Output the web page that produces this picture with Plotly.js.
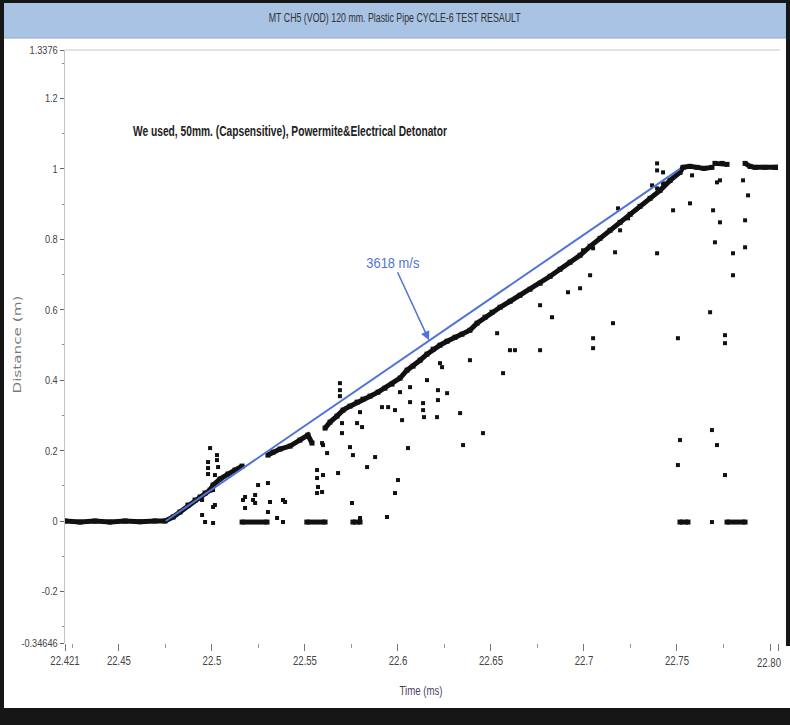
<!DOCTYPE html>
<html>
<head>
<meta charset="utf-8">
<script src="https://cdn.plot.ly/plotly-3.0.1.min.js"></script>
<style>
  html, body { margin:0; padding:0; background:#161616; width:790px; height:725px; overflow:hidden; }
  #chart { position:absolute; left:4px; top:3px; width:786px; height:705px; background:#fff; }
</style>
</head>
<body>
<div id="chart"></div>
<script>
// ---- Data ----
// Dense recorded trace (segments separated by null)
const traceTime = [
  22.4210, 22.4291, 22.4371, 22.4452, 22.4533, 22.4613, 22.4694, 22.4748,
  22.4791, 22.4828, 22.4871, 22.4909, 22.4936, 22.4963, 22.4990, 22.5006, 22.5043, 22.5086, 22.5124, 22.5162,
  null,
  22.5301, 22.5328, 22.5366, 22.5420, 22.5473, 22.5516, 22.5538,
  null,
  22.5608, 22.5635, 22.5672, 22.5705, 22.5742, 22.5780, 22.5812, 22.5850, 22.5893, 22.5930,
  22.5968, 22.6011, 22.6049, 22.6081, 22.6119, 22.6156, 22.6189, 22.6226, 22.6264, 22.6307,
  22.6344, 22.6387, 22.6425, 22.6468, 22.6506, 22.6549, 22.6603, 22.6656, 22.6710, 22.6764,
  22.6818, 22.6871, 22.6925, 22.6979, 22.7033, 22.7086, 22.7140, 22.7194, 22.7248, 22.7301,
  22.7355, 22.7409, 22.7463, 22.7516, 22.7532, 22.7570, 22.7608, 22.7645, 22.7688,
  null,
  22.7704, 22.7742, 22.7769,
  null,
  22.7866, 22.7893, 22.7920, 22.7973, 22.8027, 22.8043,
  null, 22.5162, 22.5296,
  null, 22.5510, 22.5608,
  null, 22.5758, 22.5796,
  null, 22.7516, 22.7559,
  null, 22.7769, 22.7866
];
const traceDist = [
  0, -0.003, 0, -0.003, 0, -0.002, 0, 0,
  0.0113, 0.0255, 0.0454, 0.0596, 0.0681, 0.0794, 0.0879, 0.1021, 0.1191, 0.1333, 0.1447, 0.1560,
  null,
  0.1872, 0.1957, 0.2043, 0.2128, 0.2298, 0.2440, 0.2213,
  null,
  0.2638, 0.2809, 0.2979, 0.3149, 0.3262, 0.3376, 0.3461, 0.3546, 0.3660, 0.3773,
  0.3887, 0.4057, 0.4284, 0.4397, 0.4567, 0.4738, 0.4879, 0.4993, 0.5106, 0.5220,
  0.5305, 0.5418, 0.5617, 0.5787, 0.5929, 0.6071, 0.6241, 0.6411, 0.6582, 0.6752,
  0.6950, 0.7149, 0.7348, 0.7546, 0.7801, 0.8028, 0.8255, 0.8482, 0.8709, 0.8936,
  0.9163, 0.9390, 0.9674, 0.9901, 1.0043, 1.0071, 1.0043, 1.0014, 1.0043,
  null,
  1.0156, 1.0156, 1.0128,
  null,
  1.0156, 1.0071, 1.0043, 1.0043, 1.0043, 1.0043,
  null, -0.003, -0.003,
  null, -0.003, -0.003,
  null, -0.003, -0.003,
  null, -0.003, -0.003,
  null, -0.003, -0.003
];
// Scattered single samples
const scatterTime = [
  22.4947, 22.4947, 22.4963, 22.5006, 22.5006, 22.5006, 22.5016, 22.4979, 22.4979, 22.4979,
  22.4990, 22.5027, 22.5027, 22.5033, 22.5016, 22.5167, 22.5178, 22.5221, 22.5232, 22.5248,
  22.5301, 22.5312, 22.5301, 22.5350, 22.5382, 22.5393, 22.5565, 22.5565, 22.5570, 22.5565,
  22.5597, 22.5592, 22.5597, 22.5619, 22.5592, 22.5678, 22.5688, 22.5688, 22.5688, 22.5699,
  22.5699, 22.5742, 22.5758, 22.5753, 22.5796, 22.5780, 22.5796, 22.5807, 22.5834, 22.5877,
  22.5914, 22.5947, 22.5984, 22.6022, 22.6011, 22.6065, 22.6065, 22.6054, 22.6000, 22.5984,
  22.5941, 22.6135, 22.6135, 22.6140, 22.6156, 22.6215, 22.6215, 22.6210, 22.6237, 22.6264,
  22.6226, 22.6334, 22.6350, 22.6457, 22.6387, 22.6565, 22.6533, 22.6602, 22.6629, 22.6764,
  22.6764, 22.6828, 22.6914, 22.6979, 22.7033, 22.7049, 22.7049, 22.7156, 22.7167, 22.7049,
  22.6995, 22.7194, 22.7183, 22.7237, 22.7366, 22.7393, 22.7425, 22.7393, 22.7393, 22.7393,
  22.7425, 22.7479, 22.7570, 22.7581, 22.7694, 22.7715, 22.7731, 22.7731, 22.7704, 22.7866,
  22.7855, 22.7882, 22.7866, 22.7801, 22.7801, 22.7678, 22.7505, 22.7758, 22.7758, 22.7516,
  22.7505, 22.7688, 22.7715, 22.7758, 22.5382, 22.5178, 22.5232, 22.7688
];
const scatterDist = [
  0.0596, 0.0170, -0.0028, -0.0057, 0.0397, 0.0879, 0.1305, 0.1674, 0.1504, 0.1333,
  0.2071, 0.1872, 0.1730, 0.1532, 0.0454, 0.0596, 0.0369, 0.0596, 0.0738, 0.1021,
  0.1078, 0.0539, 0.0255, 0.0085, -0.0028, 0.0539, 0.1447, 0.1220, 0.0965, 0.0794,
  0.1305, 0.0823, 0.2156, 0.1929, 0.2213, 0.1362, 0.3915, 0.3716, 0.3546, 0.2780,
  0.2496, 0.2099, 0.1872, 0.0511, 0.0085, 0.2780, 0.3092, 0.2667, 0.1532, 0.1816,
  0.3234, 0.3234, 0.3149, 0.2865, 0.3660, 0.3801, 0.3376, 0.2071, 0.1163, 0.0794,
  0.0113, 0.3348, 0.3149, 0.2950, 0.4000, 0.3716, 0.3433, 0.2950, 0.4369, 0.3631,
  0.4482, 0.3064, 0.2156, 0.2496, 0.4567, 0.4199, 0.5333, 0.4851, 0.4851, 0.4851,
  0.6128, 0.5787, 0.6496, 0.6610, 0.6979, 0.5191, 0.4908, 0.5617, 0.7631, 0.7745,
  0.7688, 0.8255, 0.8879, 0.8596, 0.9532, 0.9447, 0.9589, 0.7603, 1.0156, 0.9957,
  0.9901, 0.8823, 0.9021, 0.9816, 0.8823, 0.9617, 0.9674, 0.8482, 0.7915, 0.8539,
  0.9674, 0.9248, 0.7773, 0.7603, 0.6979, 0.5929, 0.5191, 0.5277, 0.5050, 0.2298,
  0.1589, 0.2582, 0.2156, 0.1305, 0.0596, 0.0681, 0.0511, -0.003
];
// Velocity fit line (3618 m/s)
const fitTime = [22.4752, 22.7516];
const fitDist = [0, 1.0];

const yTickVals = [-0.34646, -0.2, 0, 0.2, 0.4, 0.6, 0.8, 1, 1.2, 1.3376];
const yTickText = ['-0.34646', '-0.2', '0', '0.2', '0.4', '0.6', '0.8', '1', '1.2', '1.3376'];
const yMinorVals = [-0.3, -0.1, 0.1, 0.3, 0.5, 0.7, 0.9, 1.1, 1.3];
const xTickVals = [22.421, 22.45, 22.5, 22.55, 22.6, 22.65, 22.7, 22.75, 22.8, 22.8043];
const xTickText = ['22.421', '22.45', '22.5', '22.55', '22.6', '22.65', '22.7', '22.75', '', ''];
const xEndLabel = '22.80';
const xMinorVals = [22.425, 22.475, 22.525, 22.575, 22.625, 22.675, 22.725, 22.775];

const font = 'Liberation Sans, Arial, sans-serif';
const blue = '#4f73d8';

const data = [
  { x: traceTime, y: traceDist, type: 'scatter', mode: 'lines+markers', connectgaps: false,
    line: { color: '#111', width: 5 }, marker: { symbol: 'square', size: 5, color: '#111' },
    hoverinfo: 'skip', showlegend: false },
  { x: scatterTime, y: scatterDist, type: 'scatter', mode: 'markers',
    marker: { symbol: 'square', size: 4, color: '#111' }, showlegend: false },
  { x: fitTime, y: fitDist, type: 'scatter', mode: 'lines',
    line: { color: blue, width: 2 }, showlegend: false }
];

const layout = {
  width: 786, height: 705,
  margin: { l: 61, r: 12, t: 47, b: 65 },
  paper_bgcolor: '#ffffff', plot_bgcolor: '#ffffff',
  showlegend: false,
  xaxis: {
    range: [22.421, 22.8043], showgrid: false, zeroline: false, showline: false,
    tickmode: 'array', tickvals: xTickVals, ticktext: xTickText,
    ticks: 'outside', ticklen: 7, tickcolor: '#777', tickwidth: 1,
    tickfont: { family: font, size: 12, color: '#444' },
    minor: { tickvals: xMinorVals, ticks: 'outside', ticklen: 4, tickcolor: '#999' }
  },
  yaxis: {
    range: [-0.34646, 1.3376], showgrid: false, zeroline: false,
    showline: true, linecolor: '#c4c4c4', linewidth: 1,
    tickmode: 'array', tickvals: yTickVals, ticktext: yTickText,
    ticks: 'outside', ticklen: 4, tickcolor: '#666', tickwidth: 1,
    tickfont: { family: font, size: 11.5, color: '#444' },
    minor: { tickvals: yMinorVals, ticks: 'outside', ticklen: 2, tickcolor: '#888' }
  },
  shapes: [
    { type: 'rect', xref: 'paper', yref: 'paper', x0: -0.0856, x1: 1.0112, y0: 1.0202, y1: 1.0793,
      fillcolor: '#a8c3e4', line: { width: 0 }, layer: 'below' },
    { type: 'line', xref: 'paper', yref: 'paper', x0: -0.0856, x1: 1.0112, y0: 1.0202, y1: 1.0202,
      line: { color: '#8fa8c8', width: 1 } },
    { type: 'line', xref: 'paper', yref: 'paper', x0: 0, x1: 1.003, y0: 1, y1: 1,
      line: { color: '#c8c8c8', width: 1 } },
    { type: 'rect', xref: 'paper', yref: 'paper', x0: 1.0112, x1: 1.02, y0: -0.005, y1: 1.08,
      fillcolor: '#161616', line: { width: 0 } }
  ],
  annotations: [
    { xref: 'paper', yref: 'paper', x: 0.4628, y: 1.0548, xanchor: 'center', yanchor: 'middle',
      text: 'MT CH5 (VOD) 120 mm. Plastic Pipe CYCLE-6 TEST RESAULT', showarrow: false,
      font: { family: font, size: 12.5, color: '#333' } },
    { xref: 'x', yref: 'y', x: 22.5420, y: 1.109, xanchor: 'center', yanchor: 'middle',
      text: '<b>We used, 50mm. (Capsensitive), Powermite&amp;Electrical Detonator</b>', showarrow: false,
      font: { family: font, size: 14, color: '#222' } },
    { xref: 'x', yref: 'y', x: 22.6167, y: 0.5135, axref: 'x', ayref: 'y', ax: 22.5973, ay: 0.7348,
      text: '3618 m/s', showarrow: true, arrowhead: 2, arrowsize: 1.2, arrowwidth: 1.5, arrowcolor: blue,
      font: { family: font, size: 15, color: blue } },
    { xref: 'paper', yref: 'paper', x: -0.0673, y: 0.5025, xanchor: 'center', yanchor: 'middle',
      text: 'Distance (m)', textangle: -90, showarrow: false,
      font: { family: 'DejaVu Sans, sans-serif', size: 11, color: '#7a7a7a' } },
    { xref: 'paper', yref: 'paper', x: 0.4993, y: -0.0793, xanchor: 'center', yanchor: 'middle',
      text: 'Time (ms)', showarrow: false,
      font: { family: font, size: 13, color: '#4a3f58' } },
    { xref: 'paper', yref: 'paper', x: 1.0112, y: -0.0337, xanchor: 'right', yanchor: 'middle',
      text: xEndLabel, showarrow: false,
      font: { family: font, size: 12, color: '#444' } }
  ]
};

// Emulate the condensed face of the original with SVG textLength (text stays real text)
const targetWidths = {
  'MT CH5 (VOD) 120 mm. Plastic Pipe CYCLE-6 TEST RESAULT': 252,
  'We used, 50mm. (Capsensitive), Powermite&Electrical Detonator': 314,
  '3618 m/s': 53,
  'Time (ms)': 43,
  'Distance (m)': 98
};
function condense() {
  document.querySelectorAll('#chart svg text').forEach(t => {
    const s = t.textContent;
    if (!s) return;
    const w = t.getComputedTextLength();
    if (!w) return;
    const target = targetWidths[s] !== undefined ? targetWidths[s] : w * 0.8;
    t.setAttribute('textLength', target.toFixed(1));
    t.setAttribute('lengthAdjust', 'spacingAndGlyphs');
  });
}

Plotly.newPlot('chart', data, layout, { displayModeBar: false, staticPlot: true }).then(condense);
</script>
</body>
</html>
